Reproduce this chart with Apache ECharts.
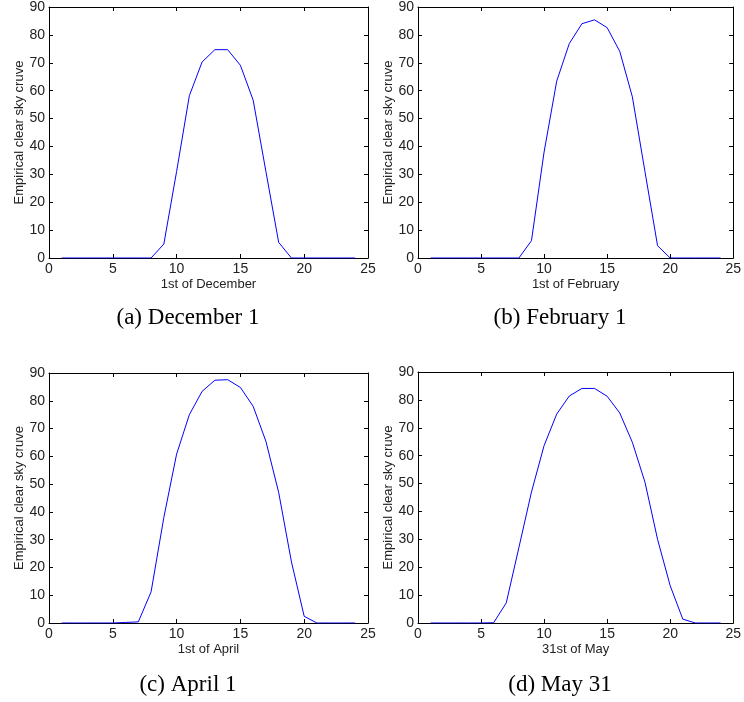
<!DOCTYPE html>
<html><head><meta charset="utf-8">
<script src="https://cdn.jsdelivr.net/npm/echarts@6/dist/echarts.min.js"></script>
<style>html,body{margin:0;padding:0;background:#fff}#c{width:744px;height:702px}</style>
</head><body><div id="c"></div>
<script>
const hours = [1,2,3,4,5,6,7,8,9,10,11,12,13,14,15,16,17,18,19,20,21,22,23,24];
const december = [0,0,0,0,0,0,0,0,5.0,31,58.2,70.3,74.7,74.7,69.1,56.6,31,5.6,0,0,0,0,0,0];
const february = [0,0,0,0,0,0,0,0,6.2,38,63.4,76.9,84.0,85.4,82.6,74.1,57.8,31,4.4,0,0,0,0,0];
const april = [0,0,0,0,0,0.2,0.4,11.2,38,60.8,75.0,83.4,87.4,87.6,84.8,78.0,65.4,47,22,2.4,0,0,0,0];
const may = [0,0,0,0,0,0.1,7.2,27,47,63.6,74.9,81.4,84.1,84.1,81.3,75.3,64.8,50.5,30,13.4,1.4,0,0,0];
const xTicks = [0,5,10,15,20,25];
const yTicks = [0,10,20,30,40,50,60,70,80,90];
const xNames = ['1st of December','1st of February','1st of April','31st of May'];
const captions = ['(a) December 1','(b) February 1','(c) April 1','(d) May 31'];
const seriesList = [december, february, april, may];

const grids = [
  {left:49, top:7, width:319, height:251},
  {left:418, top:7, width:319, height:251},
  {left:49, top:373, width:319, height:250},
  {left:418, top:372, width:319, height:251}
];
const sans = 'Liberation Sans, Arial, sans-serif';
const lineStyle = {color:'#000', width:1};
const xAxis = [], yAxis = [], series = [], graphic = [];
grids.forEach((g, i) => {
  xAxis.push({type:'value', gridIndex:i, min:xTicks[0], max:xTicks[xTicks.length-1], interval:5,
    name:xNames[i], nameLocation:'middle', nameGap:20,
    nameTextStyle:{fontFamily:sans, fontSize:13, color:'#222'},
    axisLine:{show:true, lineStyle}, axisTick:{show:true, inside:true, length:4, lineStyle},
    axisLabel:{fontFamily:sans, fontSize:14, color:'#222', margin:4}, splitLine:{show:false}});
  xAxis.push({type:'value', gridIndex:i, position:'top', min:xTicks[0], max:xTicks[xTicks.length-1], interval:5,
    axisLine:{show:true, onZero:false, lineStyle}, axisTick:{show:true, inside:true, length:4, lineStyle},
    axisLabel:{show:false}, splitLine:{show:false}});
  yAxis.push({type:'value', gridIndex:i, min:yTicks[0], max:yTicks[yTicks.length-1], interval:10,
    name:'Empirical clear sky cruve', nameLocation:'middle', nameGap:22,
    nameTextStyle:{fontFamily:sans, fontSize:13, color:'#222'},
    axisLine:{show:true, lineStyle}, axisTick:{show:true, inside:true, length:4, lineStyle},
    axisLabel:{fontFamily:sans, fontSize:14, color:'#222', margin:4}, splitLine:{show:false}});
  yAxis.push({type:'value', gridIndex:i, position:'right', min:yTicks[0], max:yTicks[yTicks.length-1], interval:10,
    axisLine:{show:true, onZero:false, lineStyle}, axisTick:{show:true, inside:true, length:4, lineStyle},
    axisLabel:{show:false}, splitLine:{show:false}});
  series.push({type:'line', xAxisIndex:i*2, yAxisIndex:i*2, symbol:'none', animation:false,
    lineStyle:{color:'#0000ff', width:1}, data:hours.map((h, k) => [h, seriesList[i][k]])});
  graphic.push({type:'text', x:(i%2===0 ? 188 : 560), y:(i<2 ? 318 : 685),
    style:{text:captions[i], fontFamily:'Liberation Serif, Times New Roman, serif', fontSize:23,
      fill:'#000', textAlign:'center', textVerticalAlign:'middle'}});
});
const chart = echarts.init(document.getElementById('c'));
chart.setOption({animation:false, grid:grids, xAxis, yAxis, series, graphic});
</script></body></html>
